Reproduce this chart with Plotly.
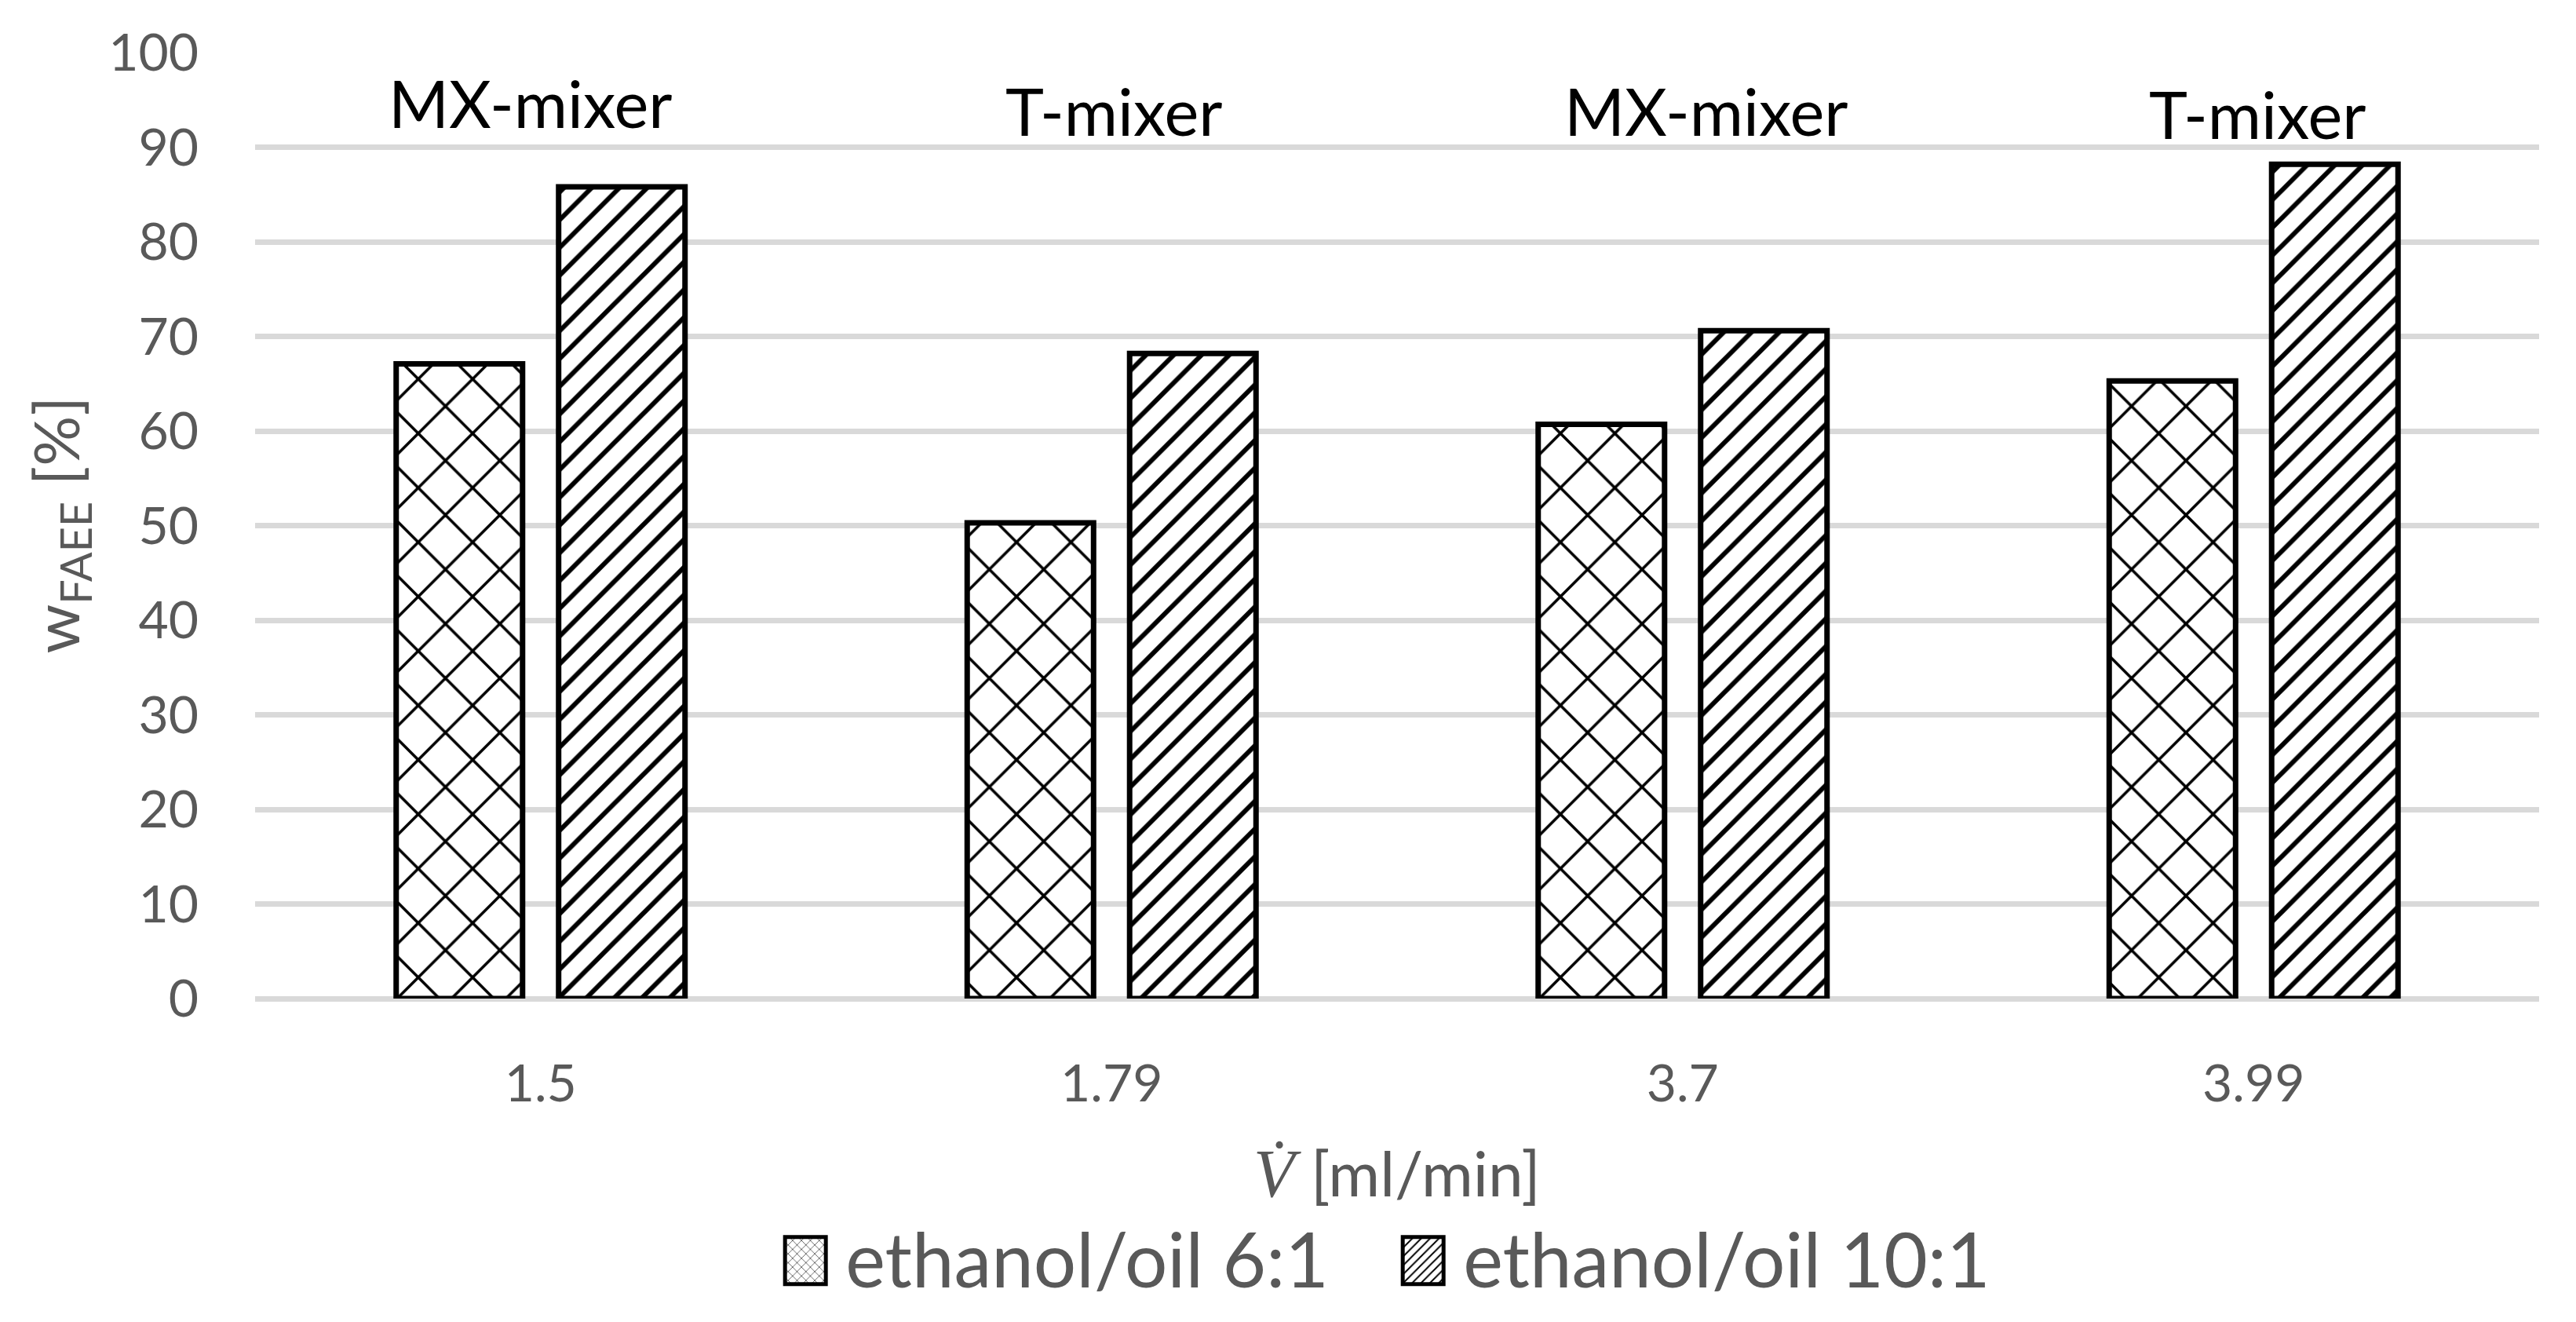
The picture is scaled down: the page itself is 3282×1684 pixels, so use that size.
import plotly.graph_objects as go

# ---- data ----
flow_rates = ["1.5", "1.79", "3.7", "3.99"]
mixer_labels = ["MX-mixer", "T-mixer", "MX-mixer", "T-mixer"]
series_names = ["ethanol/oil 6:1", "ethanol/oil 10:1"]
faee_ratio_6 = [67.1, 50.3, 60.7, 65.3]
faee_ratio_10 = [85.8, 68.2, 70.6, 88.2]
y_tick_values = [0, 10, 20, 30, 40, 50, 60, 70, 80, 90, 100]

# ---- layout constants ----
W, H = 3282, 1684
ML, MR, MT, MB = 325, 47, 67, 397
PH = H - MT - MB
FONT = "Lato"
GREY = "#595959"

fig = go.Figure()
fig.add_trace(go.Bar(
    x=flow_rates, y=faee_ratio_6, name=series_names[0],
    marker=dict(color="white", line=dict(color="black", width=7),
                pattern=dict(shape="x", size=49, solidity=0.14,
                             fgcolor="black", bgcolor="white", fillmode="replace")),
))
fig.add_trace(go.Bar(
    x=flow_rates, y=faee_ratio_10, name=series_names[1],
    marker=dict(color="white", line=dict(color="black", width=7),
                pattern=dict(shape="/", size=25, solidity=0.24,
                             fgcolor="black", bgcolor="white", fillmode="replace")),
))

annotations = []
label_y = [94.7, 93.9, 93.9, 93.5]
label_shift = [-13, 3, 30, 5]
for i, (lab, yy, xs) in enumerate(zip(mixer_labels, label_y, label_shift)):
    annotations.append(dict(x=i, y=yy, xref="x", yref="y", text=lab, showarrow=False,
                            xanchor="center", yanchor="middle", xshift=xs,
                            font=dict(family=FONT, size=83, color="black")))

# y-axis title
annotations.append(dict(x=(75 - ML) / (W - ML - MR), y=0.5, xref="paper", yref="paper",
                        text="w<sub>FAEE</sub> [%]", textangle=-90, showarrow=False,
                        xanchor="center", yanchor="middle",
                        font=dict(family=FONT, size=80, color=GREY)))
# x-axis title
annotations.append(dict(x=0.5, y=-(1512 - MT - PH) / PH, xref="paper", yref="paper",
                        text="<span style='font-family:Liberation Serif;font-size:86px'><i>V\u0307</i></span> [ml/min]",
                        showarrow=False, xanchor="center", yanchor="middle",
                        font=dict(family=FONT, size=80, color=GREY)))

fig.update_layout(
    width=W, height=H,
    margin=dict(l=ML, r=MR, t=MT, b=MB, pad=0),
    paper_bgcolor="white", plot_bgcolor="white",
    barmode="group", bargap=0.431, bargroupgap=0.222,
    showlegend=True,
    legend=dict(orientation="h", x=0.498, xanchor="center", y=-(1622 - MT - PH) / PH,
                yanchor="middle", font=dict(family=FONT, size=96, color=GREY),
                itemwidth=80, entrywidth=692, bgcolor="rgba(0,0,0,0)"),
    annotations=annotations,
    xaxis=dict(type="category", range=[-0.5, 3.5], showgrid=False, showline=False, ticks="",
               tickfont=dict(family=FONT, size=66, color=GREY), ticklabelstandoff=64),
    yaxis=dict(range=[0, 100], tickvals=y_tick_values, showgrid=True, gridcolor="#d9d9d9",
               gridwidth=7, zeroline=True, zerolinecolor="#d9d9d9", zerolinewidth=7,
               showline=False, ticks="", tickfont=dict(family=FONT, size=66, color=GREY),
               ticklabelstandoff=71),
)

# enlarge the legend swatches to the reference's size (52 x 60 px), placed just left of each text
post = """
document.body.style.margin='0';
var fix = function(){
  document.querySelectorAll('.legend .traces').forEach(function(tr){
    var p = tr.querySelector('.legendpoints path');
    var t = tr.querySelector('text.legendtext');
    if (!p || !t) return;
    p.removeAttribute('transform');
    var tb = t.getBBox();
    var tm = t.getCTM();
    var pm = p.parentNode.getCTM();
    var left = tm.e + tb.x * tm.a;
    var midy = tm.f + (tb.y + tb.height / 2) * tm.d;
    var cx = left - 51 - pm.e;
    var cy = midy + 3 - pm.f;
    p.setAttribute('d', 'M' + (cx + 26) + ',' + (cy + 30) + 'H' + (cx - 26) + 'V' + (cy - 30) + 'H' + (cx + 26) + 'Z');
    p.style.strokeWidth = '5px';
  });
};
fix();
"""

fig.write_html("out.html", post_script=post, config={"displayModeBar": False})
